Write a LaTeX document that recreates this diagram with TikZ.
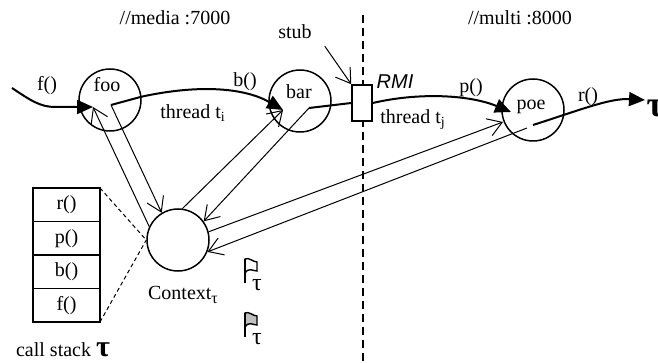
\documentclass[tikz,border=0pt]{standalone}
\usepackage{amsmath}
\usepackage{fontspec}
\setmainfont{Liberation Serif}
\newfontfamily\rmifont{Liberation Sans}
\usetikzlibrary{arrows.meta, positioning}

\tikzset{
  pics/flag/.style={code={
    \draw[line width=0.7pt, fill=#1] (0,0) .. controls (4,-2) and (8,3) .. (12,3)
      -- (12,12) .. controls (8,12) and (4,8) .. (0,14) -- cycle;
    \draw[line width=0.9pt] (0,0) -- (0,24);
    \node (-tau) at (12,26) {\fontsize{12}{14}\selectfont τ};
  }}
}

\begin{document}
\begin{tikzpicture}[x=0.5pt, y=-0.5pt, font=\fontsize{10}{12}\selectfont,
    proc/.style={draw, circle, line width=0.75pt, minimum size=31pt, inner sep=0pt},
    thread/.style={line width=1pt, -{Triangle[length=8pt,width=7pt]}},
    save/.style={line width=0.5pt, -{Straight Barb[length=7pt,width=9pt]}},
    cell/.style={draw, line width=0.75pt, outer sep=0pt, inner sep=0pt,
      minimum width=33.5pt, minimum height=16.75pt}]
    \useasboundingbox (0,0) rectangle (658,363);

    % machine boundary
    \coordinate (divtop) at (363,15);
    \coordinate (divbot) at (363,363);
    \draw[dash pattern=on 4pt off 2.5pt, line width=0.6pt] (divtop) -- (divbot);

    \node (media) at (175,18) {//media :7000};
    \node (multi) at (520,18) {//multi :8000};

    % objects
    \node[proc] (foo) at (110,100) {};
    \node[proc] (bar) at (300,101) {};
    \node[proc] (poe) at (533,110) {};
    \node[proc] (ctx) at (178,240) {};
    \node (foolbl) at (107,85) {foo};
    \node (barlbl) at (299,92) {bar};
    \node (poelbl) at (531,107) {poe};
    \node (ctxlbl) at (183,295) {Context\raisebox{-2pt}{\fontsize{8}{9}\selectfont τ}};

    \node[draw, fill=white, line width=0.75pt, minimum width=10pt, minimum height=18pt,
      inner sep=0pt] (stub) at (362,103) {};
    \node (stublbl) at (295,32) {stub};
    \node (rmi) at (395,82) {\rmifont\itshape RMI};

    \coordinate (fstart) at (12,88);
    \coordinate (fooin) at (93,107);
    \coordinate (fooout) at (111,105);
    \coordinate (barin) at (283,110);
    \coordinate (barout) at (309,108);
    \coordinate (poein) at (511,112);
    \coordinate (poeback) at (503,122);
    \coordinate (poeout) at (533,125);
    \coordinate (poesave) at (527,128);
    \coordinate (rend) at (645,100);

    % thread
    \draw[thread] (fstart) .. controls (30,100) and (40,107) .. (55,107) -- (fooin);
    \draw[thread] (fooout) -- (foo.6) .. controls (200,84) and (245,88) .. (barin);
    \draw[line width=1pt] (barout) -- (stub.west);
    \draw[thread] (stub.east) .. controls (420,92) and (470,95) .. (poein);
    \draw[thread] (poeout) .. controls (580,110) and (610,98) .. (rend);

    \node (fcall) at (47,86) {f()};
    \node (bcall) at (245,82) {b()};
    \node (pcall) at (471,88) {p()};
    \node (rcall) at (588,97) {r()};
    \node (ti) at (193,113) {thread t\textsubscript{i}};
    \node (tj) at (413,120) {thread t\textsubscript{j}};
    \node (tauend) at (655,108) {\fontsize{18}{20}\selectfont\bfseries τ};

    % context save / restore
    \draw[save] (ctx.155) -- (fooin);
    \draw[save] (fooout) -- (ctx.121);
    \draw[save] (ctx.82) -- (barin);
    \draw[save] (barout) -- (ctx.36);
    \draw[save] (ctx.15) -- (poeback);
    \draw[save] (poesave) -- (ctx.-22);
    \draw[save] ([xshift=3pt]stublbl.south east) -- (stub.north west);

    % call stack
    \node[cell] (stk-r) at (66.5,204.75) {r()};
    \node[cell, below=0pt of stk-r] (stk-p) {p()};
    \node[cell, below=0pt of stk-p] (stk-b) {b()};
    \node[cell, below=0pt of stk-b] (stk-f) {f()};
    \draw[dash pattern=on 2pt off 1.5pt, line width=0.5pt] (stk-r.north east) -- (ctx.west);
    \draw[dash pattern=on 2pt off 1.5pt, line width=0.5pt] (stk-f.south east) -- (ctx.west);
    \node (stklbl) at (63,350) {call stack {\fontsize{15}{16}\selectfont\bfseries τ}};

    % flags
    \pic (flaga) at (245,259) {flag=white};
    \pic (flagb) at (245,313) {flag=gray!50};
\end{tikzpicture}
\end{document}
